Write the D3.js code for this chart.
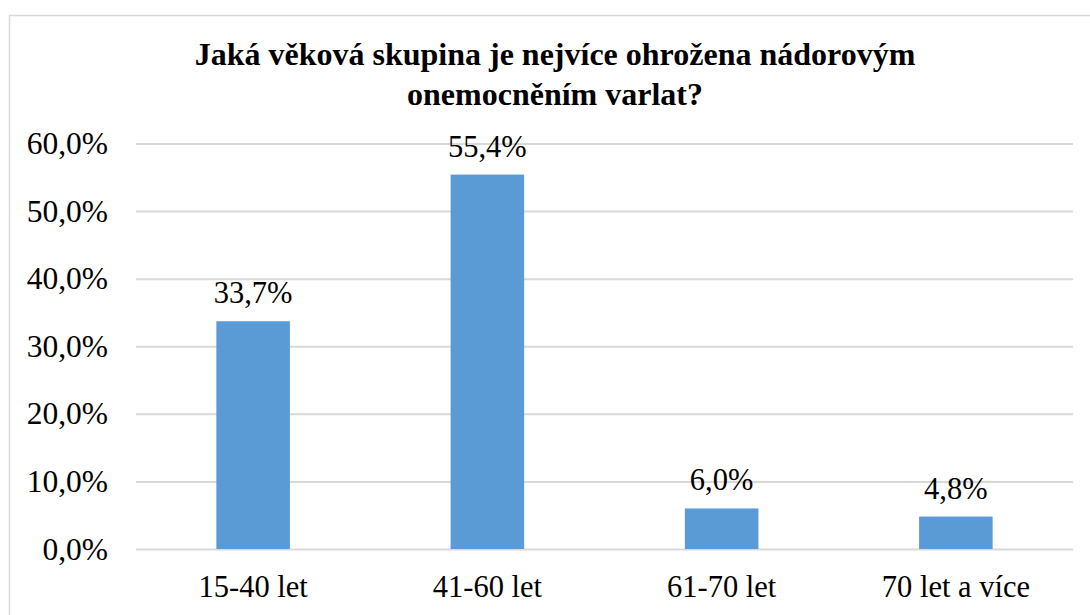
<!DOCTYPE html>
<html>
<head>
<meta charset="utf-8">
<script src="https://cdn.jsdelivr.net/npm/d3@7"></script>
<style>
body { margin: 0; background: #fff; }
svg { display: block; }
</style>
</head>
<body>
<div class="bar_wrapper"></div>
<script>
const categories = ["15-40 let", "41-60 let", "61-70 let", "70 let a více"]
const values = [33.7, 55.4, 6.0, 4.8]
const yTicks = [0, 10, 20, 30, 40, 50, 60]
const titleLines = ["Jaká věková skupina je nejvíce ohrožena nádorovým", "onemocněním varlat?"]

const serif = "'Liberation Serif', 'Times New Roman', serif"

function drawBars () {

  let dimensions = {
    width: 1090,
    height: 615,
    margin: {
      top: 143.5,
      right: 17,
      bottom: 66,
      left: 136,
    },
  }
  dimensions.boundedWidth = dimensions.width
    - dimensions.margin.left
    - dimensions.margin.right
  dimensions.boundedHeight = dimensions.height
    - dimensions.margin.top
    - dimensions.margin.bottom

  const fmt = v => v.toFixed(1).replace(".", ",") + "%"

  const wrapper = d3.select(".bar_wrapper")
    .append("svg")
      .attr("width", dimensions.width)
      .attr("height", dimensions.height)

  // chart frame (cropped at right/bottom in the original)
  wrapper.append("rect")
    .attr("x", 9.5)
    .attr("y", 15.5)
    .attr("width", 1100)
    .attr("height", 700)
    .attr("fill", "none")
    .attr("stroke", "#d9d9d9")
    .attr("stroke-width", 1.5)

  wrapper.append("g")
    .selectAll("text")
    .data(titleLines)
    .join("text")
      .attr("x", 555)
      .attr("y", (d, i) => 65 + i * 39.5)
      .attr("text-anchor", "middle")
      .style("font-family", serif)
      .style("font-weight", "bold")
      .style("font-size", "32px")
      .attr("fill", "#000")
      .text(d => d)

  const bounds = wrapper.append("g")
    .attr("transform", `translate(${dimensions.margin.left}, ${dimensions.margin.top})`)

  const xScale = d3.scaleBand()
    .domain(categories)
    .range([0, dimensions.boundedWidth])
    .paddingInner(0.686)
    .paddingOuter(0.343)

  const yScale = d3.scaleLinear()
    .domain([0, 60])
    .range([dimensions.boundedHeight, 0])

  const yAxis = d3.axisLeft(yScale)
    .tickValues(yTicks)
    .tickSize(-dimensions.boundedWidth)
    .tickPadding(28)
    .tickFormat(fmt)

  const yAxisG = bounds.append("g")
    .call(yAxis)
  yAxisG.select(".domain").remove()
  yAxisG.selectAll(".tick line")
    .attr("stroke", "#d9d9d9")
    .attr("stroke-width", 2)
  yAxisG.selectAll(".tick text")
    .attr("fill", "#000")
    .style("font-size", "31.5px")
    .style("font-family", serif)

  const xAxis = d3.axisBottom(xScale)
    .tickSize(0)
    .tickPadding(26)

  const xAxisG = bounds.append("g")
    .attr("transform", `translate(0, ${dimensions.boundedHeight})`)
    .call(xAxis)
  xAxisG.select(".domain").remove()
  xAxisG.selectAll(".tick text")
    .attr("fill", "#000")
    .style("font-size", "30.5px")
    .style("font-family", serif)

  bounds.selectAll(".bar")
    .data(values)
    .join("rect")
      .attr("class", "bar")
      .attr("x", (d, i) => xScale(categories[i]))
      .attr("y", d => yScale(d))
      .attr("width", xScale.bandwidth())
      .attr("height", d => yScale(0) - yScale(d))
      .attr("fill", "#5b9bd5")

  bounds.selectAll(".bar_label")
    .data(values)
    .join("text")
      .attr("class", "bar_label")
      .attr("x", (d, i) => xScale(categories[i]) + xScale.bandwidth() / 2)
      .attr("y", d => yScale(d) - 18)
      .attr("text-anchor", "middle")
      .style("font-family", serif)
      .style("font-size", "30.5px")
      .attr("fill", "#000")
      .text(fmt)
}
drawBars()
</script>
</body>
</html>
